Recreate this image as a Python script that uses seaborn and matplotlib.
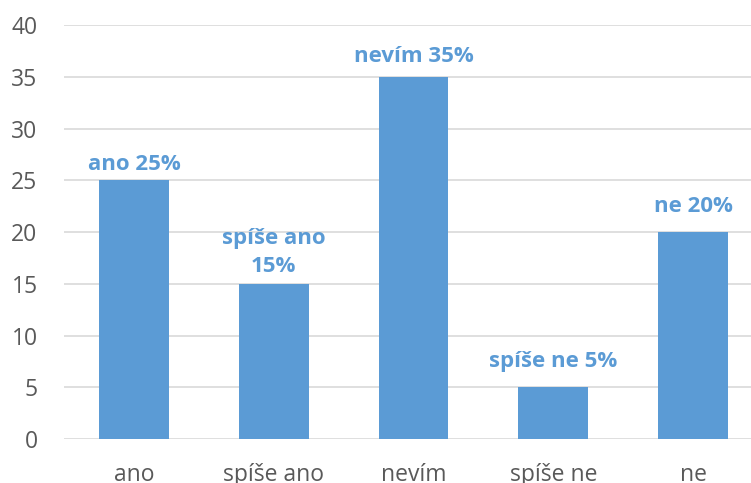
import matplotlib
matplotlib.use("Agg")
import matplotlib.pyplot as plt
import seaborn as sns

# Survey answers and their shares (%)
categories = ["ano", "spíše ano", "nevím", "spíše ne", "ne"]
values = [25, 15, 35, 5, 20]
bar_texts = ["ano 25%", "spíše ano\n15%", "nevím 35%", "spíše ne 5%", "ne 20%"]
y_ticks = [0, 5, 10, 15, 20, 25, 30, 35, 40]

sns.set_theme(style="white")
plt.rcParams["font.family"] = ["Open Sans", "DejaVu Sans"]

blue = "#5B9BD5"
grey_text = "#595959"

fig = plt.figure(figsize=(7.51, 4.83), dpi=100)
ax = fig.add_axes([0.0852, 0.0911, 0.9148, 0.8571])

sns.barplot(x=categories, y=values, color=blue, saturation=1, width=0.5,
            linewidth=0, ax=ax, zorder=3)

# labels sit a little unevenly above the bars, like in the original
pads = [3.5, 5, 7, 11, 11]
for bar, txt, pad in zip(ax.patches, bar_texts, pads):
    ax.annotate(txt, (bar.get_x() + bar.get_width() / 2, bar.get_height()),
                xytext=(0, pad), textcoords="offset points",
                ha="center", va="bottom", color=blue, fontsize=16,
                fontweight="bold", linespacing=1.45)

ax.set_ylim(0, 40)
ax.set_yticks(y_ticks)
ax.set_xlim(-0.5, 4.414)
ax.yaxis.grid(True, color="#D9D9D9", linewidth=1.2, zorder=0)
ax.set_axisbelow(True)
for s in ax.spines.values():
    s.set_visible(False)
ax.tick_params(axis="y", length=0, pad=19, labelsize=16.5, labelcolor=grey_text)
ax.tick_params(axis="x", length=0, pad=17, labelsize=16.5, labelcolor=grey_text)
ax.set_xlabel("")
ax.set_ylabel("")

fig.savefig("out.png", dpi=100)
